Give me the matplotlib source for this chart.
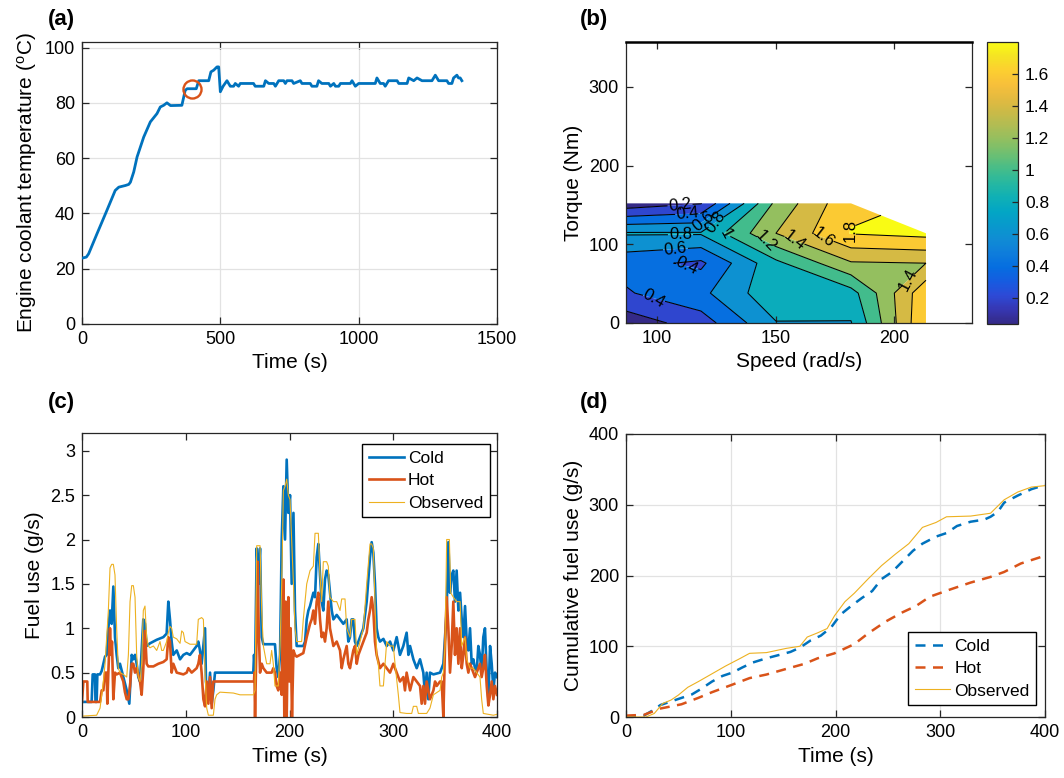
import numpy as np
import matplotlib
matplotlib.use('Agg')
import matplotlib.pyplot as plt
from matplotlib.colors import LinearSegmentedColormap, Normalize
from matplotlib.cm import ScalarMappable
from matplotlib.ticker import FuncFormatter

plt.rcParams['font.family'] = ['Liberation Sans', 'DejaVu Sans']
plt.rcParams['mathtext.fontset'] = 'custom'
plt.rcParams['mathtext.rm'] = 'Liberation Sans'
plt.rcParams['mathtext.it'] = 'Liberation Sans:italic'

BLUE = (0.0, 0.447, 0.741)
ORANGE = (0.85, 0.325, 0.098)
YELLOW = (0.929, 0.694, 0.125)
AXC = (0.15, 0.15, 0.15)

# ---------------- (a) engine coolant temperature ----------------
temp_time = [3.6, 15.7, 24, 54, 90, 120, 133, 157, 169, 175, 187, 199, 223, 247, 271, 283, 295, 307,
             320, 361, 373, 380, 413, 422, 458, 466, 476, 488, 494,
             500, 510, 524, 530, 536, 548, 554, 566, 572, 620, 626, 657, 663, 675, 693, 699, 711, 729,
             735, 741, 759, 765, 789, 795, 825, 831, 849, 855, 867, 892, 898, 910, 916, 928, 934, 970,
             976, 982, 988, 1000, 1060, 1066, 1078, 1090, 1096, 1108, 1139, 1145, 1175, 1181, 1199,
             1211, 1229, 1265, 1277, 1289, 1319, 1325, 1337, 1343, 1355, 1361, 1367, 1373]
temp_value = [23.9, 24.2, 25.4, 32.6, 41.1, 48.3, 49.5, 50.1, 50.5, 51.3, 55, 60.4, 67.6, 73.1, 76.1, 78.5,
              79.1, 80, 79, 79.1, 84.5, 85.1, 85.1, 88, 88, 91.2, 91.8, 93, 93,
              84, 86, 88, 87, 86, 86, 87, 86, 87, 87, 86, 86, 88, 87, 87, 86, 88, 88,
              87, 88, 88, 87, 88, 87, 87, 86, 86, 88, 87, 87, 86, 87, 86, 86, 87, 87,
              88, 87, 86, 87, 87, 89, 87, 87, 86, 88, 88, 87, 87, 89, 88,
              89, 88, 88, 90, 88, 88, 87, 87, 89, 90, 89, 89, 88]
marker_time = [398]
marker_temp = [85.1]

# ---------------- (b) contour map ----------------
speed_grid = [87.0, 118.6, 150.2, 181.8, 213.4]
torque_grid = [0, 38, 76, 114, 152]
fuel_map = [
    [0.08, 0.30, 0.79, 0.79, 1.80],
    [0.38, 0.55, 0.95, 0.92, 1.75],
    [0.47, 0.36, 0.95, 1.38, 1.40],
    [0.82, 0.82, 1.40, 1.81, 1.86],
    [0.075, 0.19, 1.25, 1.76, np.nan],
]
contour_levels = [0.2, 0.4, 0.6, 0.8, 1.0, 1.2, 1.4, 1.6, 1.8]
cbar_ticks = [0.2, 0.4, 0.6, 0.8, 1.0, 1.2, 1.4, 1.6]
clim = (0.035, 1.80)

# ---------------- (c) fuel use ----------------
cold_t = [0, 9.3, 10.3, 12.5, 13, 14.1, 14.8, 17.4, 19, 20.6, 22.2, 23.8, 25.4, 27, 28.6, 30.2, 31.8, 33.4, 35,
          36.6, 39.8, 43.1, 45.6, 47.9, 49.5, 51.1, 52.7, 54.3, 55.9, 59.1, 60.7, 62.3, 65.5, 72, 78.4, 81.6,
          83.2, 84.8, 86.4, 88, 91.3, 94.5, 97.7, 100.9, 104.1, 107.3, 110.5, 112.1, 113.7, 115.3, 118.6,
          119.5, 121.8, 123.4, 125, 126.6, 128.2, 165.1, 165.8, 166.8, 168.4, 170, 171.6, 173.2, 174.8, 186,
          187.6, 189.2, 190.9, 192.5, 194.1, 195.7, 197.3, 198.9, 200.5, 202.1, 203.8, 205.3, 206.9, 213.3,
          215, 216.6, 218.2, 219.8, 223, 224.6, 226.2, 227.8, 229.4, 231, 232.6, 234.2, 235.8, 237.4, 239,
          240.7, 242.3, 245.5, 248.7, 251.9, 255.1, 256.7, 258.3, 259.9, 261.5, 263.1, 264.8, 268, 271.2,
          274.4, 276, 277.6, 279.2, 280.8, 282.4, 284, 285.6, 287.2, 290.5, 293.7, 296.9, 300.1, 303.3,
          306.5, 309.7, 312.9, 314.6, 316.2, 319.4, 322.6, 325.8, 329, 330.6, 332.2, 333.8, 335.4, 338.7,
          345.1, 348.3, 349.9, 351.5, 353.1, 354.7, 356.3, 357.9, 359.5, 361.1, 362.8, 364.4, 366, 367.6,
          369.2, 370.8, 372.4, 374, 375.6, 377.2, 378.8, 380.4, 382, 383.6, 385.2, 386.8, 388.4, 390.1,
          391.7, 393.3, 394.9, 396.5, 398.1, 400]
cold_v = [0.17, 0.17, 0.48, 0.48, 0.17, 0.17, 0.48, 0.48, 0.52, 0.6, 0.68, 0.7, 1.0, 1.2, 1.05, 1.47, 0.9, 0.7,
          0.55, 0.6, 0.45, 0.3, 0.15, 0.7, 0.65, 0.7, 0.6, 0.45, 0.4, 1.1, 1.05, 0.8, 0.83, 0.87, 0.9, 0.94,
          1.3, 1.1, 0.85, 0.7, 0.75, 0.65, 0.7, 0.72, 0.7, 0.75, 0.8, 0.85, 0.75, 0.6, 1.0,
          0.4, 0.2, 0.5, 0.15, 0.3, 0.5, 0.5, 0.7, 0.5, 1.9, 1.5, 1.9, 0.9, 0.82, 0.82,
          0.55, 0.45, 0.7, 2.0, 2.6, 2.0, 2.9, 2.3, 2.5, 1.5, 2.3, 1.2, 0.8, 0.8,
          0.85, 1.1, 1.2, 1.25, 1.4, 1.35, 1.8, 1.95, 1.6, 1.3, 1.2, 1.55, 1.65, 1.6, 1.4,
          1.2, 1.1, 1.15, 1.1, 1.05, 1.1, 0.85, 0.9, 1.1, 1.1, 0.85, 0.8, 0.9, 1.0,
          1.3, 1.55, 1.8, 1.97, 1.85, 1.5, 1.0, 0.9, 0.85, 0.88, 0.8, 0.85, 0.75, 0.9,
          0.7, 0.8, 0.95, 0.7, 0.8, 0.65, 0.55, 0.65, 0.5, 0.25, 0.5, 0.2, 0.5, 0.48,
          0.5, 0.6, 0.9, 1.2, 1.97, 1.4, 1.6, 1.65, 1.3, 1.65, 1.2, 1.4, 1.1, 0.9,
          1.25, 0.85, 0.75, 1.0, 0.6, 0.65, 0.55, 0.5, 0.8, 0.7, 0.5, 0.9, 1.0, 0.5,
          0.2, 0.8, 0.6, 0.3, 0.5, 0.45]

hot_t = [0, 1.3, 5.1, 5.5, 17.4, 19, 20.6, 22.2, 23.8, 24.4, 25.4, 27, 28, 28.9, 30.2, 31.8, 33.4, 36.6, 39.8,
         41.4, 43.1, 44.7, 46.3, 47.9, 49.5, 51.1, 52.7, 55.9, 57.5, 59.1, 60.7, 62.3, 63.9, 68.8, 73.6, 78.4,
         81.6, 83.2, 84.8, 86.4, 88, 91.3, 97.7, 100.9, 102.5, 105.7, 110.5, 112.1, 113.7, 115.3, 117, 118.6,
         120.2, 121.8, 123.4, 125, 126.6, 165.8, 166.2, 166.8, 168.4, 169.3, 170.3, 171.6, 173.2, 174.8, 178,
         182.8, 184.4, 186, 187.6, 189.2, 190.9, 192.5, 194.1, 195, 196.3, 197.3, 198.9, 199.9, 201.1, 202.4,
         203.8, 205.3, 206.9, 210.1, 213.3, 216.6, 219.8, 221.4, 223, 224.6, 226.2, 227.8, 229.4, 231, 232.6,
         234.2, 235.8, 237.4, 239, 240.7, 242.3, 245.5, 248.7, 250.3, 251.9, 255.1, 256.7, 258.3, 261.5, 263.1,
         264.8, 266.4, 268, 271.2, 274.4, 276, 277.6, 279.2, 280.8, 282.4, 284, 287.2, 290.5, 293.7, 296.9,
         300.1, 303.3, 306.5, 309.7, 311.3, 312.9, 316.2, 319.4, 322.6, 325.8, 327.4, 329, 330.6, 332.2, 335.4,
         338.7, 340.3, 341.9, 345.1, 346.7, 348.3, 349.9, 351.5, 353.1, 354.7, 356.3, 357.9, 359.5, 361.1,
         362.8, 364.4, 366, 367.6, 369.2, 370.8, 372.4, 374, 377.2, 378.8, 380.4, 383.6, 385.2, 386.8, 388.4,
         390.1, 391.7, 393.3, 394.9, 396.5, 398.1, 400]
hot_v = [0.17, 0.4, 0.4, 0.17, 0.17, 0.3, 0.3, 0.5, 0.5, 0.15, 0.5, 1.0, 0.7, 0.85, 0.2, 0.5, 0.48, 0.5, 0.4,
         0.28, 0.2, 0.2, 0.35, 0.6, 0.6, 0.5, 0.55, 0.4, 0.25, 0.55, 0.97, 0.6, 0.57, 0.57, 0.6, 0.62,
         0.65, 0.9, 0.85, 0.5, 0.6, 0.5, 0.48, 0.5, 0.55, 0.5, 0.55, 0.6, 0.7, 0.5, 0.2, 0.12,
         0.4, 0.15, 0.45, 0.1, 0.4, 0.4, 0.5, 0.0, 1.0, 1.75, 1.0, 0.5, 0.6, 0.55, 0.5,
         0.5, 0.55, 0.5, 0.35, 0.3, 0.5, 0.25, 1.55, 0.0, 1.3, 0.0, 1.35, 0.4, 1.0, 0.0,
         0.75, 0.7, 0.68, 0.7, 0.72, 0.9, 1.05, 1.1, 1.2, 1.05, 1.3, 1.4, 1.1, 0.9, 0.95,
         0.85, 1.0, 1.3, 1.0, 0.9, 0.8, 0.85, 0.75, 0.55, 0.65, 0.8, 0.6, 0.55, 0.75, 0.8,
         0.6, 0.7, 0.75, 0.85, 0.95, 1.1, 1.2, 1.35, 1.2, 0.85, 0.7, 0.55, 0.6, 0.55, 0.5,
         0.6, 0.5, 0.4, 0.45, 0.3, 0.5, 0.3, 0.45, 0.4, 0.35, 0.15, 0.35, 0.15, 0.4, 0.2,
         0.3, 0.4, 0.35, 0.4, 0.4, 0.0, 0.8, 1.35, 1.0, 0.5, 0.8, 1.3, 0.7, 1.0,
         0.6, 1.0, 0.55, 0.7, 0.9, 0.6, 0.5, 0.6, 0.5, 0.45, 0.5, 0.6, 0.45, 0.55, 0.7,
         0.35, 0.13, 0.25, 0.4, 0.2, 0.35, 0.25]

obs_t = [0, 14.1, 17.4, 20.6, 22.2, 23.8, 25.4, 27, 28.6, 30.2, 31.8, 33.4, 35, 36.6, 39.8, 43.1, 44.7, 46.3,
         47.9, 49.5, 51.1, 52.7, 54.3, 55.9, 57.5, 59.1, 60.7, 62.3, 63.9, 65.5, 68.8, 72, 75.2, 76.8, 78.4,
         81.6, 83.2, 84.8, 86.4, 88, 91.3, 94.5, 96.1, 97.7, 99.3, 104.1, 110.5, 112.1, 115.3, 117, 118.6,
         120.2, 121.8, 126.6, 128.2, 129.8, 133, 145.9, 152.3, 165.1, 166.8, 168.4, 171.6, 173.2, 174.8, 178,
         181.2, 182.8, 184.4, 186, 189.2, 190.9, 192.5, 194.1, 195.7, 197.3, 198.9, 200.5, 202.1, 203.8,
         205.3, 206.9, 211.7, 213.3, 216.6, 219.8, 223, 224.6, 227.8, 229.4, 231, 232.6, 235.8, 237.4, 239,
         242.3, 245.5, 248.7, 250.3, 253.5, 255.1, 258.3, 259.9, 263.1, 264.8, 268, 271.2, 274.4, 277.6,
         279.2, 280.8, 282.4, 284, 285.6, 287.2, 290.5, 292.1, 293.7, 296.9, 300.1, 301.7, 304.9, 306.5,
         312.9, 317.8, 319.4, 322.6, 324.2, 332.2, 335.4, 338.7, 345.1, 346.7, 348.3, 349.9, 351.5, 354.1,
         355.4, 357.9, 361.1, 364.4, 366, 369.2, 370.8, 374, 377.2, 380.4, 383.6, 385.2, 386.8, 396.5, 400]
obs_v = [0.01, 0.02, 0.1, 0.4, 0.6, 0.9, 1.2, 1.68, 1.72, 1.72, 1.6, 1.0, 0.55, 0.5, 0.48, 0.45, 0.7, 1.3,
         1.48, 1.48, 1.35, 0.7, 0.45, 0.4, 0.6, 1.2, 1.25, 0.9, 0.8, 0.78, 0.8, 0.75, 0.85, 0.75, 0.75,
         0.85, 0.95, 1.02, 1.0, 0.9, 0.88, 0.83, 0.97, 0.95, 0.85, 0.82, 0.82, 1.1, 1.12, 1.1, 0.5,
         0.1, 0.02, 0.02, 0.2, 0.25, 0.28, 0.27, 0.25, 0.25, 0.3, 1.93, 1.93, 1.2, 0.8, 0.6,
         0.6, 0.75, 0.6, 0.35, 0.35, 0.8, 1.5, 2.55, 2.6, 2.68, 2.5, 2.45, 2.0, 1.5,
         1.0, 0.85, 0.85, 1.1, 1.5, 1.65, 1.7, 2.07, 2.07, 1.6, 1.3, 1.75, 1.75, 1.7, 1.35,
         1.3, 1.3, 1.2, 1.33, 1.33, 1.0, 0.9, 1.1, 1.1, 0.7, 0.85, 1.0, 1.5, 1.95,
         1.95, 1.9, 1.3, 0.7, 0.6, 0.35, 0.35, 0.6, 0.85, 0.8, 0.8, 0.6, 0.25, 0.05,
         0.04, 0.04, 0.12, 0.12, 0.04, 0.04, 0.1, 0.25, 0.3, 0.45, 0.5, 0.8, 2.0, 2.0,
         1.4, 1.35, 1.3, 1.3, 0.8, 0.9, 0.65, 0.55, 0.55, 0.5, 0.45, 0.2, 0.04, 0.02, 0.03]

# ---------------- (d) cumulative fuel use ----------------
cum_cold_t = [0, 17, 24, 33, 43, 53, 63, 72, 82, 92, 102, 111, 121, 134, 147, 157, 166, 176, 186, 196, 205,
              215, 225, 235, 244, 254, 264, 274, 283, 296, 306, 316, 329, 342, 348, 355, 361, 374, 387, 400]
cum_cold_v = [0, 2, 8, 17, 22, 27, 32, 40, 50, 58, 63, 70, 77, 83, 88, 92, 98, 108, 115, 127, 145,
              157, 168, 178, 195, 205, 220, 235, 245, 255, 260, 270, 276, 279, 283, 290, 303, 313, 322, 328]
cum_hot_t = [0, 17, 33, 53, 69, 82, 102, 118, 134, 153, 170, 183, 199, 218, 231, 248, 264, 277, 290, 309,
             329, 348, 361, 377, 400]
cum_hot_v = [2, 3, 12, 18, 27, 35, 46, 55, 60, 68, 75, 83, 90, 103, 118, 135, 148, 157, 170, 180,
             190, 198, 205, 217, 228]
cum_obs_t = [0, 19, 27, 35, 43, 50, 59, 69, 82, 95, 108, 118, 134, 153, 166, 173, 183, 192, 199, 209, 218,
             231, 244, 257, 270, 283, 296, 306, 329, 348, 361, 374, 387, 400]
cum_obs_v = [0, 0, 5, 19, 24, 31, 42, 50, 61, 72, 82, 90, 91, 97, 100, 113, 119, 125, 143, 163, 175,
             195, 214, 230, 245, 268, 275, 283, 284, 288, 307, 318, 325, 327]

series_names = ['Cold', 'Hot', 'Observed']

# ---------------- parula-like colormap ----------------
parula_anchors = [
    (0.00, (0.2081, 0.1663, 0.5292)), (0.05, (0.2120, 0.2130, 0.6980)),
    (0.10, (0.1780, 0.2900, 0.8400)), (0.15, (0.0850, 0.3600, 0.8800)),
    (0.20, (0.0200, 0.4300, 0.8800)), (0.25, (0.0560, 0.4900, 0.8600)),
    (0.30, (0.0620, 0.5500, 0.8300)), (0.35, (0.0300, 0.6000, 0.8000)),
    (0.40, (0.0100, 0.6500, 0.7700)), (0.45, (0.0600, 0.6900, 0.7100)),
    (0.50, (0.1500, 0.7200, 0.6300)), (0.55, (0.2700, 0.7400, 0.5400)),
    (0.60, (0.4200, 0.7500, 0.4500)), (0.65, (0.5600, 0.7500, 0.3800)),
    (0.70, (0.6800, 0.7400, 0.3300)), (0.75, (0.7900, 0.7300, 0.2800)),
    (0.80, (0.8900, 0.7300, 0.2500)), (0.85, (0.9700, 0.7500, 0.2300)),
    (0.90, (0.9900, 0.8100, 0.1900)), (0.95, (0.9600, 0.8900, 0.1400)),
    (1.00, (0.9760, 0.9830, 0.0800)),
]
parula = LinearSegmentedColormap.from_list('parula', parula_anchors, N=256)

fig = plt.figure(figsize=(10.64, 7.78), dpi=100)


def px(l, t, r, b):
    return [l / 1064, 1 - b / 778, (r - l) / 1064, (b - t) / 778]


def style(ax, grid=False):
    for s in ax.spines.values():
        s.set_color(AXC)
        s.set_linewidth(0.9)
    ax.tick_params(direction='in', top=True, right=True, length=5, width=0.9, color=AXC,
                   labelsize=13, labelcolor='black', pad=5)
    if grid:
        ax.grid(True, color='#e2e2e2', linewidth=0.9)
        ax.set_axisbelow(True)


fmt_g = FuncFormatter(lambda v, p: f'{v:g}')
LABEL_FS = 15

# (a)
axA = fig.add_axes(px(82, 42, 497, 324))
style(axA, grid=True)
axA.plot(temp_time, temp_value, color=BLUE, lw=2.0, zorder=3)
axA.plot(marker_time, marker_temp, 'o', ms=13, mfc='none', mec=ORANGE, mew=1.7, zorder=4)
axA.set_xlim(0, 1500)
axA.set_ylim(0, 102)
axA.set_xticks([0, 500, 1000, 1500])
axA.set_yticks([0, 20, 40, 60, 80, 100])
axA.set_xlabel('Time (s)', fontsize=LABEL_FS)
axA.set_ylabel(r'Engine coolant temperature ($^{\mathrm{o}}$C)', fontsize=LABEL_FS)

# (b)
axB = fig.add_axes(px(626, 42, 972, 323))
style(axB)
axB.spines['top'].set_linewidth(1.8)
axB.spines['top'].set_color('black')
S, T = np.meshgrid(speed_grid, torque_grid)
Z = np.ma.masked_invalid(np.array(fuel_map, dtype=float))
norm = Normalize(vmin=clim[0], vmax=clim[1])
fill_levels = [0.0] + contour_levels + [2.0]
fill_colors = [parula(norm(clim[0]))] + [parula(norm(L)) for L in contour_levels]
axB.contourf(S, T, Z, levels=fill_levels, colors=fill_colors, corner_mask=True, antialiased=True)
cs = axB.contour(S, T, Z, levels=contour_levels, colors='black', linewidths=0.75, corner_mask=True)
label_spots = [(110, 147), (113, 139), (118, 131), (124, 129), (110, 108), (108, 92), (112, 70),
               (99, 32), (129, 113), (146, 104), (159, 107), (171, 110), (183, 117), (203, 57)]
axB.clabel(cs, manual=label_spots, fmt=lambda v: f'{v:g}', fontsize=12, inline=True, inline_spacing=3)
axB.set_xlim(87, 232.8)
axB.set_ylim(0, 357)
axB.set_xticks([100, 150, 200])
axB.set_yticks([0, 100, 200, 300])
axB.set_xlabel('Speed (rad/s)', fontsize=LABEL_FS)
axB.set_ylabel('Torque (Nm)', fontsize=LABEL_FS)

cax = fig.add_axes(px(987, 42, 1018, 324))
cb = fig.colorbar(ScalarMappable(norm=norm, cmap=parula), cax=cax, ticks=cbar_ticks)
cb.ax.yaxis.set_major_formatter(fmt_g)
cb.ax.tick_params(direction='in', length=4, width=0.9, color=AXC, labelsize=12.5, pad=5)
cb.outline.set_edgecolor(AXC)
cb.outline.set_linewidth(0.9)

leg_kw = dict(borderaxespad=0, fontsize=12.5, fancybox=False, framealpha=1, edgecolor='black',
              handlelength=2.0, labelspacing=0.42, handletextpad=0.25, borderpad=0.38)

# (c)
axC = fig.add_axes(px(82, 433, 497, 717))
style(axC)
axC.plot(cold_t, cold_v, color=BLUE, lw=1.9, label=series_names[0])
axC.plot(hot_t, hot_v, color=ORANGE, lw=1.9, label=series_names[1])
axC.plot(obs_t, obs_v, color=YELLOW, lw=0.8, label=series_names[2])
axC.set_xlim(0, 400)
axC.set_ylim(0, 3.2)
axC.set_xticks([0, 100, 200, 300, 400])
axC.set_yticks([0, 0.5, 1, 1.5, 2, 2.5, 3])
axC.yaxis.set_major_formatter(fmt_g)
axC.set_xlabel('Time (s)', fontsize=LABEL_FS)
axC.set_ylabel('Fuel use (g/s)', fontsize=LABEL_FS)
legC = axC.legend(loc='upper right', bbox_to_anchor=(0.983, 0.961), **leg_kw)
legC.get_frame().set_linewidth(1.0)

# (d)
axD = fig.add_axes(px(626, 434, 1045, 717))
style(axD, grid=True)
dash = (0, (4, 3))
axD.plot(cum_cold_t, cum_cold_v, color=BLUE, lw=1.8, ls=dash, label=series_names[0])
axD.plot(cum_hot_t, cum_hot_v, color=ORANGE, lw=1.8, ls=dash, label=series_names[1])
axD.plot(cum_obs_t, cum_obs_v, color=YELLOW, lw=0.8, label=series_names[2])
axD.set_xlim(0, 400)
axD.set_ylim(0, 400)
axD.set_xticks([0, 100, 200, 300, 400])
axD.set_yticks([0, 100, 200, 300, 400])
axD.set_xlabel('Time (s)', fontsize=LABEL_FS)
axD.set_ylabel('Cumulative fuel use (g/s)', fontsize=LABEL_FS)
legD = axD.legend(loc='lower right', bbox_to_anchor=(0.9785, 0.042), **leg_kw)
legD.get_frame().set_linewidth(1.0)

# panel letters
for lab, x, y in [('(a)', 48, 20), ('(b)', 580, 20), ('(c)', 48, 403), ('(d)', 580, 403)]:
    fig.text(x / 1064, 1 - y / 778, lab, fontsize=16, fontweight='bold', va='center', ha='left')

fig.savefig('out.png', dpi=100)
